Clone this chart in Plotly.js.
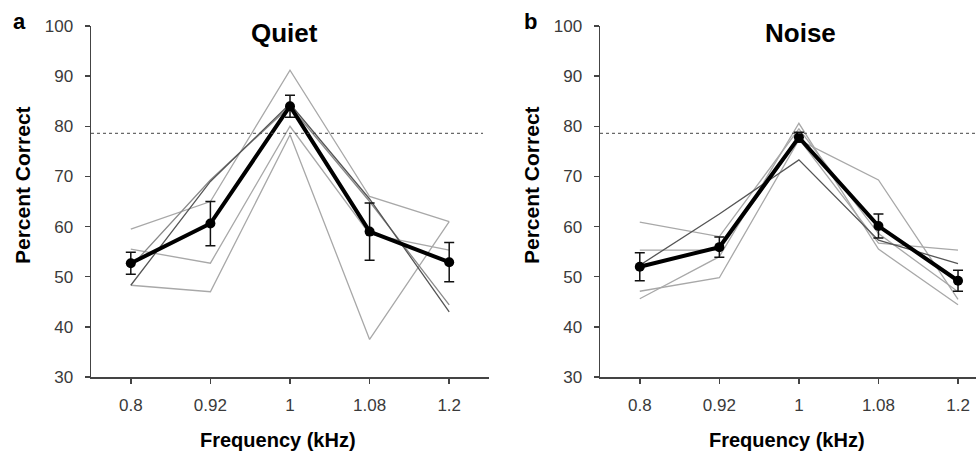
<!DOCTYPE html>
<html>
<head>
<meta charset="utf-8">
<script src="https://cdn.plot.ly/plotly-3.0.1.min.js"></script>
<style>html,body{margin:0;padding:0;background:#fff;}#chart{width:976px;height:452px;}</style>
</head>
<body>
<div id="chart"></div>
<script>
// ---- data ----
var freqs = ['0.8', '0.92', '1', '1.08', '1.2'];
var yTicks = [30, 40, 50, 60, 70, 80, 90, 100];
var threshold = 78.6;

// Quiet (panel a): individual listeners
var quietS1 = [59.5, 65.0, 91.2, 66.0, 61.0];
var quietS2 = [48.3, 47.0, 78.3, 37.5, 61.0];
var quietS3 = [55.5, 52.7, 80.0, 58.5, 55.3];
var quietS4 = [48.3, 69.0, 84.5, 65.5, 43.0];
var quietS5 = [52.0, 69.3, 84.0, 65.0, 44.4];
var quietMean = [52.7, 60.6, 84.0, 59.0, 52.9];
var quietErr = [2.2, 4.4, 2.2, 5.7, 3.9];

// Noise (panel b): individual listeners
var noiseS1 = [60.9, 58.0, 79.5, 58.6, 47.0];
var noiseS2 = [55.3, 55.3, 77.5, 56.7, 55.3];
var noiseS3 = [52.3, 62.5, 73.3, 57.3, 52.6];
var noiseS4 = [47.1, 49.8, 77.3, 69.3, 45.5];
var noiseS5 = [45.6, 54.0, 80.6, 55.5, 44.4];
var noiseMean = [52.0, 55.9, 77.8, 60.1, 49.2];
var noiseErr = [2.8, 2.0, 1.0, 2.4, 2.1];

// ---- helpers ----
var W = 976, H = 452;
function px(x) { return x / W; }
function py(y) { return 1 - y / H; }
var FONT = 'Liberation Sans, Arial, sans-serif';

function subj(y, color, xa, ya) {
  return {x: freqs, y: y, type: 'scatter', mode: 'lines', xaxis: xa, yaxis: ya,
    line: {color: color, width: 1.3}, hoverinfo: 'skip', showlegend: false};
}
function meanTrace(y, err, xa, ya) {
  return {x: freqs, y: y, type: 'scatter', mode: 'lines+markers', xaxis: xa, yaxis: ya,
    line: {color: '#000', width: 4}, marker: {color: '#000', size: 10},
    error_y: {type: 'data', array: err, visible: true, color: '#111', thickness: 1.5, width: 5},
    showlegend: false};
}

var traces = [
  subj(quietS1, '#a8a8a8', 'x', 'y'),
  subj(quietS2, '#a8a8a8', 'x', 'y'),
  subj(quietS3, '#a8a8a8', 'x', 'y'),
  subj(quietS5, '#8a8a8a', 'x', 'y'),
  subj(quietS4, '#555555', 'x', 'y'),
  meanTrace(quietMean, quietErr, 'x', 'y'),
  subj(noiseS1, '#a8a8a8', 'x2', 'y2'),
  subj(noiseS2, '#a8a8a8', 'x2', 'y2'),
  subj(noiseS4, '#a8a8a8', 'x2', 'y2'),
  subj(noiseS5, '#a8a8a8', 'x2', 'y2'),
  subj(noiseS3, '#555555', 'x2', 'y2'),
  meanTrace(noiseMean, noiseErr, 'x2', 'y2')
];

function xAxis(domain, range, anchor) {
  return {domain: domain, type: 'category', categoryorder: 'array', categoryarray: freqs,
    range: range, anchor: anchor, showline: true, linecolor: '#444', linewidth: 1.5,
    ticks: 'outside', ticklen: 5, tickwidth: 1.5, tickcolor: '#444', showgrid: false, zeroline: false,
    tickfont: {family: FONT, size: 17, color: '#3a3a3a'}, ticklabelstandoff: 7, fixedrange: true};
}
function yAxis(anchor) {
  return {domain: [py(377), py(26)], range: [30, 100], tickvals: yTicks, anchor: anchor,
    showline: true, linecolor: '#444', linewidth: 1.5, ticks: 'outside', ticklen: 5, tickwidth: 1.5,
    tickcolor: '#444', showgrid: false, zeroline: false,
    tickfont: {family: FONT, size: 17, color: '#3a3a3a'}, ticklabelstandoff: 8, fixedrange: true};
}

var ann = [];
function txt(t, x, y, size, angle) {
  ann.push({text: '<b>' + t + '</b>', x: px(x), y: py(y), xref: 'paper', yref: 'paper',
    xanchor: 'center', yanchor: 'middle', showarrow: false, textangle: angle || 0,
    font: {family: FONT, size: size, color: '#000'}});
}
txt('a', 19, 22, 22);
txt('b', 530, 22, 22);
txt('Quiet', 284, 33, 26);
txt('Noise', 800, 33, 26);
txt('Percent Correct', 22, 185, 21, -90);
txt('Percent Correct', 531, 185, 21, -90);
txt('Frequency (kHz)', 278, 440, 20);
txt('Frequency (kHz)', 787, 440, 20);

var layout = {
  width: W, height: H, margin: {l: 0, r: 0, t: 0, b: 0},
  paper_bgcolor: '#fff', plot_bgcolor: '#fff', showlegend: false,
  xaxis: xAxis([px(91), px(489)], [-0.5, 4.5], 'y'),
  yaxis: yAxis('x'),
  xaxis2: xAxis([px(600), 1], [-0.5, 4.226], 'y2'),
  yaxis2: yAxis('x2'),
  annotations: ann,
  shapes: [
    {type: 'line', xref: 'x domain', yref: 'y', x0: 0, x1: 0.985, y0: threshold, y1: threshold,
     line: {color: '#444', width: 1, dash: 'dot'}},
    {type: 'line', xref: 'x2 domain', yref: 'y2', x0: 0, x1: 1, y0: threshold, y1: threshold,
     line: {color: '#444', width: 1, dash: 'dot'}}
  ]
};

Plotly.newPlot('chart', traces, layout, {displayModeBar: false, staticPlot: true});
</script>
</body>
</html>
